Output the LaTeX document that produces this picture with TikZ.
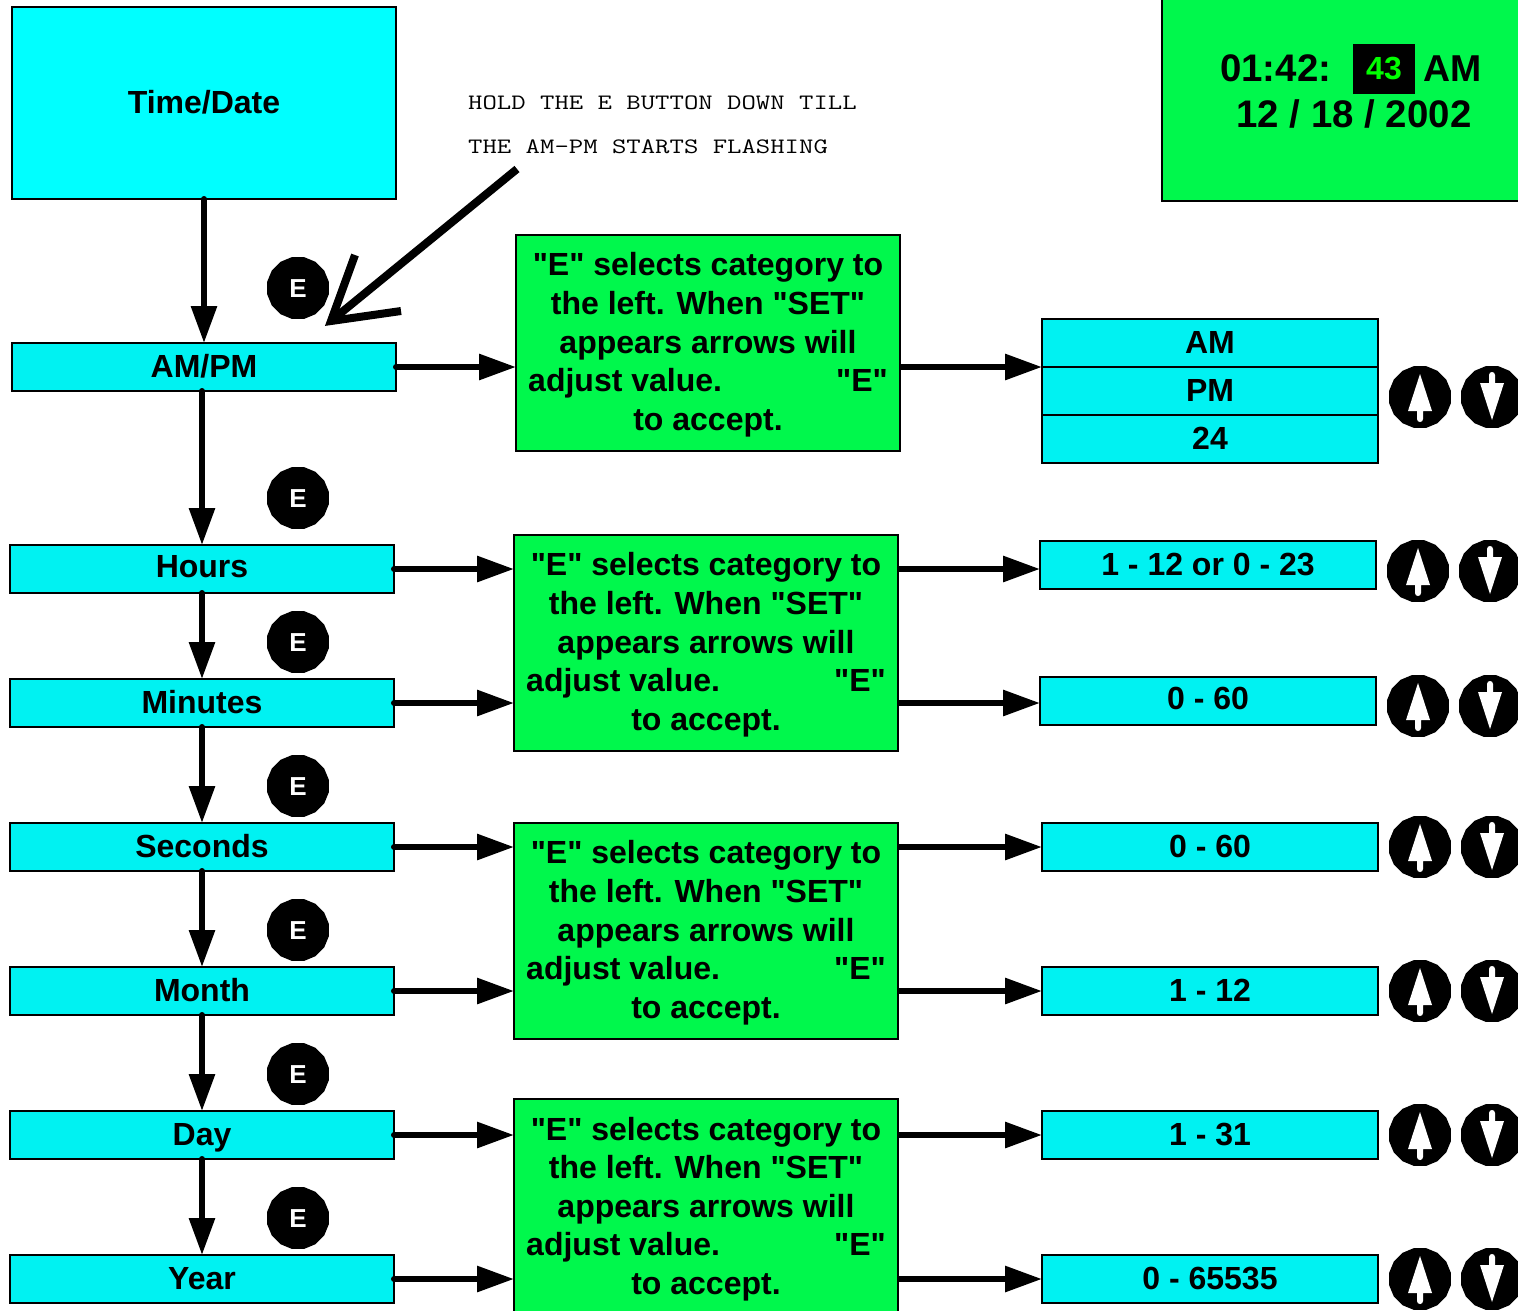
\documentclass[tikz,border=0pt]{standalone}
\usepackage{fontspec}
\setmainfont[Ligatures=TeXOff]{Liberation Sans}
\newfontfamily\notefont[FakeStretch=1.27]{Latin Modern Mono}
\definecolor{cyanhead}{HTML}{00FFFF}
\definecolor{cyanrow}{HTML}{00F2F2}
\definecolor{greenbox}{HTML}{00F84C}
\definecolor{greenled}{HTML}{00FF00}
\usetikzlibrary{calc,positioning,arrows.meta,shapes.geometric}
\tikzstyle{bigtext}=[font=\fontsize{32}{38.6}\selectfont\bfseries]
\tikzstyle{rowbox}=[rectangle,draw,line width=2pt,outer sep=0pt,fill=cyanrow,inner sep=0pt,minimum width=384pt,minimum height=48pt,bigtext,text height=25pt,text depth=5pt]
\tikzstyle{rangebox}=[rowbox,minimum width=336pt]
\tikzstyle{raised}=[text height=23pt,text depth=7pt]
\tikzstyle{helpbox}=[rectangle,draw,line width=2pt,outer sep=0pt,fill=greenbox,inner sep=0pt,minimum width=384pt,minimum height=216pt,bigtext,align=center]
\tikzstyle{ebtn}=[regular polygon,regular polygon sides=16,fill=black,inner sep=0pt,outer sep=0pt,minimum size=63pt,text=white,font=\fontsize{26}{26}\selectfont\bfseries,text height=18pt,text depth=0pt]
\tikzstyle{link}=[line width=6pt,line cap=round,-{Triangle[length=37pt,width=25pt]}]
\tikzstyle{outlink}=[link,line cap=butt]
\tikzstyle{clocktext}=[inner sep=0pt,font=\fontsize{38.4}{38.4}\selectfont\bfseries,text height=27pt,text depth=0pt]
\tikzstyle{notetext}=[inner sep=0pt,anchor=base west,font=\fontsize{22}{22}\notefont]
\tikzstyle{pointer}=[line width=8pt]
\newcommand{\helptext}{\rule{0pt}{27pt}"E" selects category to\\the left. When "SET"\\appears arrows will\\adjust value.\hspace{114pt}"E"\\to accept.}
\newcommand{\drawlinks}[2][link]{
	\foreach \a/\b in {#2}{
		\draw[#1] (\a) -- (\b);
	}
}
\newcommand{\drawbtns}[1]{
	\foreach \n/\xa/\xb/\y in {#1}{
		\node[ebtn] (up\n) at (\xa,\y) {};
		\node[ebtn] (dn\n) at (\xb,\y) {};
		\fill[white,shift={(up\n)}] (0,-23) -- (12,14) -- (3,14) -- (3,22) .. controls (3,26) and (-3,26) .. (-3,22) -- (-3,14) -- (-12,14) -- cycle;
		\fill[white,shift={(dn\n)}] (0,23) -- (12,-14) -- (3,-14) -- (3,-22) .. controls (3,-26) and (-3,-26) .. (-3,-22) -- (-3,-14) -- (-12,-14) -- cycle;
	}
}

\begin{document}
\begin{tikzpicture}[x=1pt,y=-1pt]
\useasboundingbox (0,0) rectangle (1518,1310);

% left column
\node[rowbox,fill=cyanhead,minimum height=192pt] (time) at (204,103) {Time/Date};
\node[rowbox] (ampm) at (204,367) {AM/PM};
\node[rowbox,raised] (hours) at (202,569) {Hours};
\foreach \n/\t/\y in {minutes/Minutes/703,seconds/Seconds/847,month/Month/991,day/Day/1135,year/Year/1279}{
	\node[rowbox] (\n) at (202,\y) {\t};
}

% help boxes
\node[helpbox] (help1) at (708,343) {\helptext};
\node[helpbox] (help2) at (706,643) {\helptext};
\node[helpbox] (help3) at (706,931) {\helptext};
\node[helpbox] (help4) at (706,1207) {\helptext};

% ranges
\node[rangebox] (am) at (1210,343) {AM};
\node[rangebox] (pm) at (1210,391) {PM};
\node[rangebox] (h24) at (1210,439) {24};
\node[rangebox] (rhours) at (1208,565) {1 - 12 or 0 - 23};
\node[rangebox,raised] (rminutes) at (1208,701) {0 - 60};
\node[rangebox] (rseconds) at (1210,847) {0 - 60};
\node[rangebox] (rmonth) at (1210,991) {1 - 12};
\node[rangebox] (rday) at (1210,1135) {1 - 31};
\node[rangebox] (ryear) at (1210,1279) {0 - 65535};

% clock
\node[rectangle,draw,line width=2pt,fill=greenbox,minimum width=368pt,minimum height=210pt,inner sep=0pt] (clock) at (1346,96) {};
\node[clocktext,anchor=base west] (hms) at (1220,81) {01:42:};
\node[rectangle,fill=black,text=greenled,minimum width=62pt,minimum height=50pt,inner sep=0pt,font=\fontsize{32}{32}\selectfont\bfseries] (secs) at (1384,69) {43};
\node[clocktext,anchor=base west,font=\fontsize{37.4}{37.4}\selectfont\bfseries] (ap) at (1423,81) {AM};
\node[clocktext,anchor=base] (date) at (1354,127) {12 / 18 / 2002};

% note
\node[notetext] (note1) at (468,109) {HOLD THE E BUTTON DOWN TILL};
\node[notetext] (note2) at (468,153) {THE AM-PM STARTS FLASHING};
\coordinate (notetail) at (517,169);
\coordinate (notetip) at (331,321);
\coordinate (barb1) at (355,255);
\coordinate (barb2) at (401,311);
\draw[pointer] (notetail) -- (notetip);
\draw[pointer] (barb1) -- (notetip) -- (barb2);

% E buttons
\foreach \n/\y in {a/288,b/498,c/642,d/786,e/930,f/1074,g/1218}{
	\node[ebtn] (e\n) at (298,\y) {E};
}

% up and down buttons
\drawbtns{a/1420/1492/397,b/1418/1490/571,c/1418/1490/706,d/1420/1492/847,e/1420/1492/991,f/1420/1492/1135,g/1420/1492/1279}

% links
\drawlinks{time.south/ampm.north,ampm.south -| hours.north/hours.north,hours.south/minutes.north,minutes.south/seconds.north,seconds.south/month.north,month.south/day.north,day.south/year.north}
\drawlinks{ampm.east/help1.west |- ampm.east,hours.east/help2.west |- hours.east,minutes.east/help2.west |- minutes.east,seconds.east/help3.west |- seconds.east,month.east/help3.west |- month.east,day.east/help4.west |- day.east,year.east/help4.west |- year.east}
\drawlinks[outlink]{help1.east |- ampm.east/am.west |- ampm.east,help2.east |- hours.east/rhours.west |- hours.east,help2.east |- minutes.east/rminutes.west |- minutes.east,help3.east |- seconds.east/rseconds.west,help3.east |- month.east/rmonth.west,help4.east |- day.east/rday.west,help4.east |- year.east/ryear.west}
\end{tikzpicture}
\end{document}
